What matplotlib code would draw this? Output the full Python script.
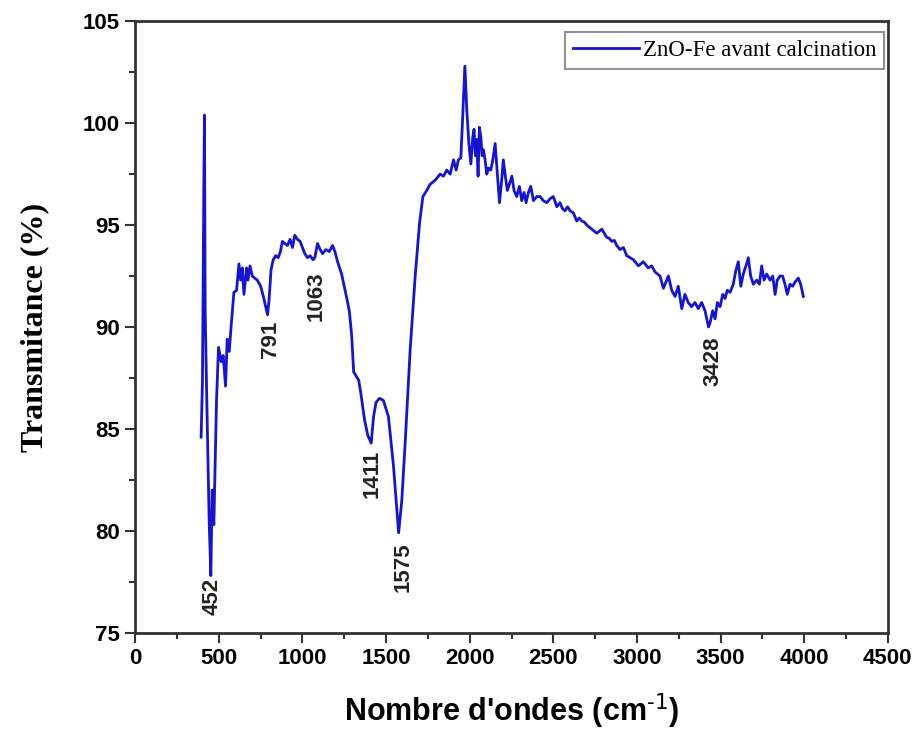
import matplotlib
matplotlib.use('Agg')
import matplotlib.pyplot as plt
from matplotlib.ticker import MultipleLocator

plt.rcParams['font.family'] = ['Liberation Sans', 'DejaVu Sans']

# FTIR spectrum, ZnO-Fe before calcination
wavenumber = [394, 402, 410, 414, 418, 426, 442, 452, 460, 470, 486, 498, 514, 526,
              540, 550, 562, 574, 590, 606, 620, 630, 640, 650, 666, 674, 686, 700,
              714, 730, 750, 766, 791, 800, 812, 825, 840, 855, 868, 880, 894, 910,
              926, 940, 954, 970, 986, 1000, 1014, 1030, 1046, 1063, 1074, 1090, 1106,
              1120, 1140, 1160, 1180, 1194, 1210, 1234, 1260, 1280, 1294, 1306, 1320,
              1336, 1350, 1370, 1390, 1411, 1425, 1440, 1460, 1484, 1514, 1544, 1575,
              1594, 1614, 1644, 1674, 1700, 1720, 1743, 1763, 1793, 1823, 1843, 1863,
              1883, 1903, 1919, 1932, 1947, 1958, 1971, 1983, 1995, 2007, 2018, 2026,
              2034, 2042, 2050, 2058, 2067, 2074, 2082, 2092, 2102, 2112, 2126, 2138,
              2152, 2166, 2178, 2190, 2201, 2213, 2225, 2237, 2252, 2265, 2281, 2297,
              2311, 2325, 2337, 2351, 2365, 2381, 2401, 2421, 2440, 2461, 2481, 2500,
              2521, 2540, 2555, 2570, 2585, 2600, 2620, 2640, 2655, 2670, 2685, 2700,
              2730, 2760, 2790, 2819, 2835, 2849, 2865, 2879,
              2899, 2919, 2939, 2979, 3009, 3038, 3068, 3088, 3108, 3138, 3158, 3188,
              3208, 3228, 3247, 3268, 3287, 3307, 3327, 3347, 3367, 3387, 3407, 3428,
              3437, 3453, 3467, 3481, 3497, 3513, 3527, 3540, 3557, 3576, 3592, 3606,
              3621, 3636, 3652, 3666, 3680, 3696, 3716, 3732, 3746, 3760, 3776, 3796,
              3812, 3826, 3839, 3855, 3871, 3885, 3899, 3915, 3931, 3945, 3965, 3979,
              3995]
transmittance = [84.6, 87.4, 96.9, 100.4, 90.9, 87.2, 80.5, 77.8, 82.0, 80.3, 86.4, 89.0,
                 88.3, 88.6, 87.1, 89.4, 88.8, 90.1, 91.7, 91.8, 93.1, 92.3, 92.9, 91.6,
                 92.9, 92.3, 93.0, 92.5, 92.4, 92.3, 92.0, 91.5, 90.6, 91.3, 92.8, 93.3,
                 93.5, 93.4, 93.7, 94.2, 94.1, 94.0, 94.3, 93.9, 94.5, 94.3, 94.2, 93.9,
                 93.6, 93.4, 93.5, 93.3, 93.4, 94.1, 93.8, 93.6, 93.8, 93.7, 94.0, 93.7,
                 93.2, 92.6, 91.6, 90.8, 89.6, 87.8, 87.6, 87.4, 86.7, 85.5, 84.7, 84.3,
                 85.6, 86.3, 86.5, 86.4, 85.6, 83.2, 79.9, 81.5, 84.3, 88.9, 92.5, 95.1,
                 96.4, 96.7, 97.0, 97.2, 97.5, 97.4, 97.7, 97.5, 98.2, 97.7, 98.2, 98.3,
                 100.3, 102.8, 100.6, 99.0, 98.0, 99.3, 99.7, 98.4, 99.2, 97.4, 99.8, 99.3,
                 98.4, 98.7, 98.2, 97.5, 97.8, 97.7, 98.2, 99.0, 97.4, 96.1, 97.1, 98.2,
                 97.4, 96.7, 97.0, 97.4, 96.7, 96.4, 96.9, 96.2, 96.6, 96.1, 96.6, 96.9,
                 96.2, 96.4, 96.4, 96.2, 96.1, 96.3, 96.4,
                 95.9, 96.1, 95.8, 95.7, 95.9, 95.7, 95.6, 95.2, 95.35, 95.2, 95.15, 95.0,
                 94.8, 94.6, 94.8, 94.4, 94.35, 94.2, 94.25, 94.0,
                 93.8, 93.9, 93.5, 93.3, 93.0, 93.2, 92.9, 93.0, 92.7, 92.5, 91.9, 92.5,
                 91.8, 91.5, 92.0, 90.9, 91.6, 91.2, 91.0, 91.2, 90.9, 91.2, 90.8, 90.0,
                 90.2, 90.8, 90.4, 91.2, 91.0, 91.6, 91.4, 91.8, 91.7, 92.1, 92.8, 93.2,
                 92.0, 92.6, 93.0, 93.4, 92.5, 92.1, 92.3, 92.1, 93.0, 92.3, 92.6, 92.3,
                 92.5, 91.6, 92.3, 92.5, 92.5, 92.1, 91.6, 92.1, 92.0, 92.2, 92.4, 92.1,
                 91.5]

# band labels: text, x, y
band_labels = ['452', '791', '1063', '1411', '1575', '3428']
band_x = [462, 806, 1080, 1418, 1600, 3457]
band_y = [76.8, 89.4, 91.5, 82.8, 78.2, 88.3]

fig = plt.figure(figsize=(9.2, 7.34), dpi=100)
ax = fig.add_axes([0.147, 0.138, 0.818, 0.833])

ax.plot(wavenumber, transmittance, color='#1414d2', lw=2.0,
        label='ZnO-Fe avant calcination')

for txt, x, y in zip(band_labels, band_x, band_y):
    ax.text(x, y, txt, rotation=90, ha='center', va='center',
            fontsize=16, fontweight='bold', color='#222222')

ax.set_xlim(0, 4500)
ax.set_ylim(75, 105)
ax.xaxis.set_major_locator(MultipleLocator(500))
ax.xaxis.set_minor_locator(MultipleLocator(250))
ax.yaxis.set_major_locator(MultipleLocator(5))
ax.yaxis.set_minor_locator(MultipleLocator(2.5))
ax.tick_params(which='both', direction='out', width=1.5, color='#333333',
               top=False, right=False)
ax.tick_params(which='major', length=7, labelsize=16, pad=4)
ax.tick_params(which='minor', length=4)
for lbl in ax.get_xticklabels() + ax.get_yticklabels():
    lbl.set_fontweight('bold')
for sp in ax.spines.values():
    sp.set_linewidth(2.0)
    sp.set_color('#333333')

ax.set_xlabel("Nombre d'ondes (cm$^{\\text{-1}}$)", fontsize=22, fontweight='bold',
              labelpad=16)
ax.set_ylabel('Transmitance (%)', fontsize=23, fontweight='bold',
              family=['Liberation Serif', 'DejaVu Serif'], labelpad=24)

leg = ax.legend(loc='upper right', bbox_to_anchor=(0.995, 0.982), borderaxespad=0,
                fancybox=False, edgecolor='#777777', handlelength=2.9,
                handletextpad=0.15, borderpad=0.35,
                prop={'family': 'Liberation Serif', 'size': 16.5})
leg.get_frame().set_linewidth(1.5)

fig.savefig('out.png', dpi=100)
